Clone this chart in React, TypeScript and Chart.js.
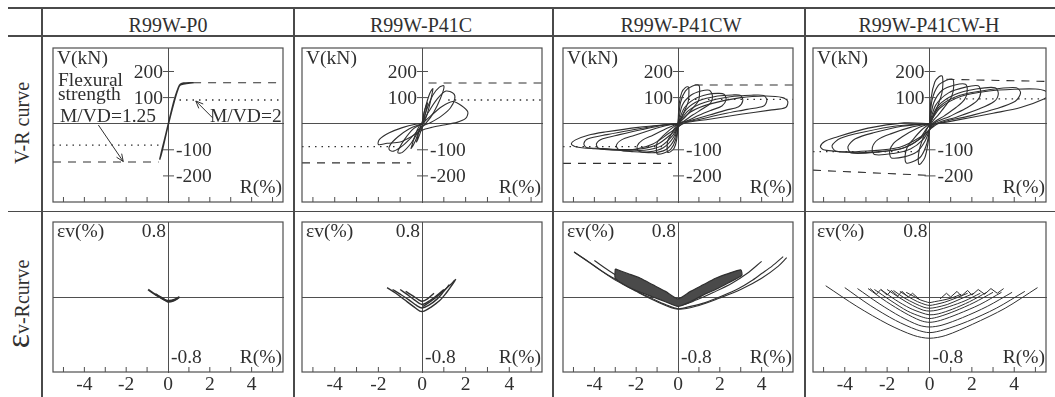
import React, { useEffect, useRef } from 'react';
import { Chart, registerables } from 'chart.js';

Chart.register(...registerables);

type Pt = [number, number];

// ---------------- text ----------------
const specimenTitles = ['R99W-P0', 'R99W-P41C', 'R99W-P41CW', 'R99W-P41CW-H'];
const rowTitleVR = 'V-R curve';
const rowTitleERSymbol = 'ε';
const rowTitleERRest = 'v-Rcurve';

// ---------------- axes ----------------
const rRange: Pt = [-5.5, 5.5];
const vRange: Pt = [-300, 290];
const eRange: Pt = [-0.8, 0.8];
const vTickValues = [-200, -100, 100, 200];
const rMinorTicks = [-5, -4, -3, -2, -1, 1, 2, 3, 4, 5];
const rLabelTicks = [-4, -2, 0, 2, 4];

// ---------------- R99W-P0 ----------------
const p0Hysteresis: Pt[] = [[-0.4,-138],[-0.32,-110],[-0.18,-65],[0,-5],[0.18,55],[0.35,105],[0.5,140],[0.6,152],[0.75,156],[1.2,157],[0.58,148],[0.45,125],[0.3,85],[0.12,30],[-0.05,-25],[-0.22,-85],[-0.33,-120],[-0.4,-138]];
const p0FlexDashed: Pt[][] = [[[1.2,157],[5.5,157]],[[-5.5,-147],[-0.45,-147]]];
const p0FlexDotted: Pt[][] = [[[0.55,91],[5.5,91]],[[-5.5,-82],[-0.45,-82]]];
const p0Arrows: [Pt, Pt][] = [[[-3.33,-5],[-2.14,-145]],[[2.14,22],[1.33,87]]];
const p0Strain: Pt[][] = [
  [[-0.95,0.08],[-0.7,0.04],[-0.4,0.0],[-0.15,-0.03],[0.05,-0.04],[0.3,-0.03],[0.55,0.0]],
  [[-0.6,0.03],[-0.3,-0.01],[0,-0.05],[0.25,-0.04],[0.5,-0.01]],
];

// ---------------- R99W-P41C ----------------
const p41cHysteresis: Pt[][] = [
  [[0,0],[0.1,45],[0.25,80],[0.2,55],[0.05,0],[-0.1,-40],[-0.25,-70],[-0.2,-50],[-0.05,-5],[0,0]],
  [[0,0],[0.15,60],[0.35,115],[0.5,135],[0.45,110],[0.3,55],[0.1,5],[-0.1,-20],[-0.3,-65],[-0.5,-95],[-0.45,-80],[-0.3,-40],[-0.1,-5],[0,0]],
  [[0,0],[0.2,50],[0.5,110],[0.8,140],[1.0,145],[0.95,120],[0.7,70],[0.4,25],[0.1,-5],[-0.2,-35],[-0.5,-75],[-0.9,-110],[-1.1,-112],[-1.05,-95],[-0.8,-60],[-0.4,-20],[0,0]],
  [[0,0],[0.3,45],[0.7,95],[1.1,125],[1.45,115],[1.5,95],[1.3,60],[0.9,30],[0.4,5],[0,-10],[-0.4,-45],[-0.9,-85],[-1.3,-105],[-1.5,-100],[-1.45,-80],[-1.1,-50],[-0.6,-20],[0,0]],
  [[0,0],[0.4,30],[0.9,65],[1.4,85],[1.8,70],[2.1,45],[2.0,20],[1.6,5],[1.0,-5],[0.4,-15],[0,-25],[-0.5,-50],[-1.0,-70],[-1.6,-75],[-2.0,-80],[-1.95,-60],[-1.5,-35],[-0.9,-15],[-0.3,-2],[0,0]],
];
const p41cFlexDashed: Pt[][] = [[[0.3,156],[5.5,156]],[[-5.5,-150],[-0.5,-150]]];
const p41cFlexDotted: Pt[][] = [[[1.2,91],[5.5,91]],[[-5.5,-88],[-1.2,-88]]];
const p41cStrain: Pt[][] = [
  [[-1.6,0.1],[-1.2,0.04],[-0.8,-0.03],[-0.4,-0.1],[-0.1,-0.15],[0.1,-0.15],[0.4,-0.11],[0.8,-0.04],[1.1,0.04],[1.35,0.12],[1.55,0.19]],
  [[0.05,-0.1],[0.5,-0.03],[1.0,0.07],[1.3,0.13],[1.5,0.18]],
  [[-1.35,0.08],[-1.0,0.03],[-0.6,-0.03],[-0.25,-0.09],[0,-0.117],[0.3,-0.09],[0.7,-0.02],[1.0,0.06],[1.25,0.13]],
  [[-1.0,0.08],[-0.7,0.03],[-0.35,-0.03],[0,-0.08],[0.35,-0.04],[0.7,0.02],[1.0,0.08]],
  [[-0.75,0.06],[-0.4,0.01],[-0.15,-0.03],[0,-0.046],[0.25,-0.02],[0.55,0.04]],
];

// ---------------- R99W-P41CW ----------------
const p41cwHysteresis: Pt[][] = [
  [[0,0],[0.06,78],[0.18,120],[0.35,138],[0.5,141],[0.52,113],[0.49,85],[0.35,56],[0.18,25],[0.03,0],[-0.06,-60],[-0.18,-93],[-0.35,-107],[-0.5,-109],[-0.52,-87],[-0.49,-65],[-0.35,-44],[-0.18,-20],[0,0]],
  [[0,0],[0.12,81],[0.35,125],[0.7,144],[1.0,147],[1.03,118],[0.98,88],[0.7,59],[0.35,26],[0.05,0],[-0.12,-63],[-0.35,-98],[-0.7,-113],[-1.0,-115],[-1.03,-92],[-0.98,-69],[-0.7,-46],[-0.35,-21],[0,0]],
  [[0,0],[0.2,70],[0.6,108],[1.1,125],[1.5,128],[1.65,105],[1.55,78],[1.2,58],[0.7,33],[0.25,8],[0,0],[-0.15,-55],[-0.5,-95],[-1.0,-110],[-1.6,-110],[-1.9,-104],[-1.95,-85],[-1.7,-63],[-1.2,-44],[-0.6,-20],[0,0]],
  [[0,0],[0.3,60],[0.8,95],[1.4,112],[1.9,116],[2.2,113],[2.3,92],[2.1,68],[1.6,52],[1.0,32],[0.4,10],[0.05,0],[-0.2,-50],[-0.7,-92],[-1.4,-108],[-2.2,-107],[-2.8,-101],[-2.95,-84],[-2.7,-62],[-2.1,-45],[-1.3,-24],[-0.5,-6],[0,0]],
  [[0,0],[0.4,55],[1.0,88],[1.9,106],[2.6,110],[3.0,108],[3.1,88],[2.9,65],[2.3,52],[1.5,33],[0.6,12],[0.1,0],[-0.25,-45],[-0.8,-85],[-1.6,-102],[-2.6,-103],[-3.4,-98],[-3.8,-94],[-3.9,-77],[-3.6,-58],[-2.8,-42],[-1.7,-22],[-0.7,-6],[0,0]],
  [[0,0],[0.5,50],[1.3,82],[2.5,103],[3.5,109],[4.1,108],[4.25,90],[4.1,68],[3.3,55],[2.2,38],[1.0,16],[0.2,0],[-0.3,-38],[-1.0,-80],[-1.8,-97],[-2.8,-99],[-3.7,-95],[-4.4,-90],[-4.5,-75],[-4.3,-58],[-3.4,-42],[-2.2,-24],[-1,-8],[0,0]],
  [[0,0],[0.6,45],[1.5,75],[3,100],[4.2,106],[5.0,100],[5.25,85],[5.15,62],[4.4,52],[3,36],[1.5,17],[0.3,2],[-0.4,-35],[-1.2,-78],[-2,-97],[-3,-101],[-4,-96],[-4.9,-88],[-5.1,-78],[-4.9,-62],[-4.3,-44],[-3.5,-32],[-1.9,-14],[0,0]],
];
const p41cwFlexDashed: Pt[][] = [[[0.8,148],[5.5,148]],[[-5.5,-152],[-0.3,-152]]];
const p41cwFlexDotted: Pt[][] = [[[0.5,93],[5.5,93]],[[-5.5,-88],[-0.5,-88]]];
const p41cwStrainBand: Pt[] = [[-3.0,0.3],[-2.4,0.25],[-1.8,0.2],[-1.2,0.13],[-0.6,0.06],[0,-0.02],[0.6,0.06],[1.2,0.13],[1.8,0.2],[2.4,0.25],[3.0,0.29],[3.05,0.23],[2.4,0.15],[1.8,0.08],[1.2,0.02],[0.6,-0.05],[0,-0.1],[-0.6,-0.05],[-1.2,0.0],[-1.8,0.05],[-2.4,0.11],[-3.0,0.2],[-3.0,0.3]];
const p41cwStrain: Pt[][] = [
  [[-4.97,0.48],[-4.3,0.38],[-3.46,0.25],[-2.6,0.14],[-1.87,0.05],[-1.2,-0.02],[-0.6,-0.08],[0,-0.125],[0.6,-0.1],[1.3,-0.06],[2.1,0.01],[2.9,0.09],[3.5,0.17],[4.0,0.25],[4.5,0.33],[5.03,0.43]],
  [[-4.0,0.39],[-3.3,0.28],[-2.5,0.17],[-1.7,0.08],[-0.9,0.0],[0,-0.09],[0.9,-0.03],[1.8,0.06],[2.6,0.15],[3.3,0.25],[4.0,0.38]],
  [[-4.97,0.48],[-4.0,0.33],[-3.0,0.18],[-2.0,0.06],[-1.0,-0.05],[0,-0.13],[1.0,-0.09],[2.0,-0.01],[3.0,0.08],[4.0,0.2],[4.8,0.33],[5.2,0.42]],
];

// ---------------- R99W-P41CW-H ----------------
const p41cwhHysteresis: Pt[][] = [
  [[0,0],[0.08,100],[0.25,160],[0.45,180],[0.6,183],[0.63,150],[0.58,115],[0.42,75],[0.22,35],[0.05,0],[-0.08,-80],[-0.22,-130],[-0.4,-152],[-0.5,-156],[-0.53,-130],[-0.48,-100],[-0.35,-65],[-0.18,-30],[0,0]],
  [[0,0],[0.12,90],[0.4,145],[0.8,166],[1.1,170],[1.14,140],[1.05,105],[0.75,68],[0.4,32],[0.08,0],[-0.12,-75],[-0.4,-125],[-0.8,-146],[-1.1,-150],[-1.15,-122],[-1.05,-90],[-0.75,-58],[-0.4,-26],[0,0]],
  [[0,0],[0.2,80],[0.6,128],[1.2,148],[1.7,151],[1.78,125],[1.65,92],[1.25,62],[0.7,30],[0.15,0],[-0.2,-65],[-0.6,-108],[-1.2,-127],[-1.8,-131],[-1.88,-105],[-1.7,-75],[-1.25,-48],[-0.65,-20],[0,0]],
  [[0,0],[0.3,72],[0.9,118],[1.7,140],[2.3,145],[2.42,120],[2.25,88],[1.7,58],[0.95,28],[0.2,0],[-0.3,-60],[-0.9,-97],[-1.7,-114],[-2.6,-118],[-2.7,-92],[-2.45,-62],[-1.8,-38],[-0.9,-14],[0,0]],
  [[0,0],[0.4,68],[1.2,112],[2.2,133],[3.1,138],[3.25,115],[3.05,85],[2.3,55],[1.3,26],[0.3,0],[-0.4,-55],[-1.2,-92],[-2.4,-108],[-3.7,-112],[-3.85,-88],[-3.5,-58],[-2.6,-34],[-1.3,-10],[0,0]],
  [[0,0],[0.45,64],[1.4,108],[2.8,130],[4.1,138],[4.3,118],[4.05,86],[3.1,56],[1.8,28],[0.4,0],[-0.45,-52],[-1.4,-90],[-2.8,-104],[-4.4,-106],[-4.6,-84],[-4.2,-56],[-3.1,-32],[-1.5,-8],[0,0]],
  [[0,0],[0.5,60],[1.5,105],[2.8,125],[4,132],[5.0,133],[5.45,126],[5.6,110],[5.4,95],[4.3,62],[3,40],[1.9,23],[0.8,6],[0,-8],[-0.5,-60],[-1.3,-95],[-2.4,-108],[-3.6,-111],[-4.5,-105],[-5,-100],[-5.15,-87],[-4.95,-68],[-4.5,-54],[-2.9,-17],[-1.2,3],[0,0]],
];
const p41cwhFlexDashed: Pt[][] = [[[0.8,170],[5.5,162]],[[-5.5,-178],[0,-198]]];
const p41cwhFlexDotted: Pt[][] = [[[0.5,95],[5.5,95]],[[-5.5,-107],[-0.5,-107]]];
const p41cwhStrain: Pt[][] = [
  [[-4.9,0.12],[-3.43,-0.10],[-1.96,-0.29],[-0.74,-0.41],[0,-0.44],[0.77,-0.41],[2.04,-0.29],[3.57,-0.12],[5.1,0.10]],
  [[-4.0,0.10],[-2.8,-0.09],[-1.6,-0.25],[-0.6,-0.35],[0,-0.38],[0.68,-0.35],[1.8,-0.26],[3.15,-0.12],[4.5,0.06]],
  [[-3.4,0.09],[-2.38,-0.07],[-1.36,-0.21],[-0.51,-0.30],[0,-0.32],[0.59,-0.30],[1.56,-0.22],[2.73,-0.10],[3.9,0.05]],
  [[-2.9,0.09],[-2.03,-0.05],[-1.16,-0.17],[-0.44,-0.25],[0,-0.27],[0.51,-0.25],[1.36,-0.18],[2.38,-0.08],[3.4,0.05]],
  [[-2.6,0.08],[-1.82,-0.04],[-1.04,-0.15],[-0.39,-0.21],[0,-0.23],[0.45,-0.21],[1.2,-0.15],[2.1,-0.06],[3.0,0.05]],
  [[-2.3,0.08],[-1.61,-0.03],[-0.92,-0.12],[-0.35,-0.17],[0,-0.19],[0.41,-0.18],[1.08,-0.13],[1.89,-0.05],[2.7,0.05]],
  [[-2.0,0.08],[-1.4,-0.01],[-0.8,-0.09],[-0.3,-0.14],[0,-0.15],[0.36,-0.14],[0.96,-0.10],[1.68,-0.04],[2.4,0.04]],
  [[-1.7,0.07],[-1.19,-0.01],[-0.68,-0.07],[-0.26,-0.11],[0,-0.12],[0.32,-0.11],[0.84,-0.08],[1.47,-0.02],[2.1,0.04]],
  [[-1.4,0.06],[-0.98,0.0],[-0.56,-0.05],[-0.21,-0.08],[0,-0.09],[0.27,-0.08],[0.72,-0.055],[1.26,-0.01],[1.8,0.04]],
  [[-1.1,0.05],[-0.77,0.01],[-0.44,-0.03],[-0.17,-0.05],[0,-0.06],[0.23,-0.05],[0.6,-0.035],[1.05,-0.01],[1.5,0.03]],
];
const p41cwhStrainZigzag: Pt[][] = [
  [[-2.8,0.09],[-2.5,0.03],[-2.3,0.08],[-2.0,0.02],[-1.8,0.07],[-1.5,0.01],[-1.3,0.06],[-1.0,0.0],[-0.8,0.04],[-0.5,-0.02]],
  [[0.5,-0.02],[0.8,0.04],[1.0,0.0],[1.3,0.06],[1.5,0.01],[1.8,0.07],[2.0,0.02],[2.3,0.08],[2.6,0.03],[2.9,0.09],[3.2,0.04],[3.5,0.09]],
];

// ---------------- styling / layout ----------------
const FONT = "'Liberation Serif', 'Times New Roman', Times, serif";
const INK = '#303030';
const RULE = '#4a4a4a';
const FRAME = '#4f4f4f';
const LABEL_PX = 19.5;
const M = 22;
const MB = 28;
const colBoxes: Pt[] = [[53, 230], [302, 240], [563, 230], [813, 233]];
const rowBoxes: Pt[] = [[48, 154], [222, 150]];
const headerCenters = [168, 421, 681, 929];
const verticalRules = [41, 293, 552, 804];

type Curve = { pts: Pt[]; width?: number; dash?: number[]; tension?: number; fill?: boolean };
type Note = { text: string; dx: number; dy: number };
type PanelSpec = { col: number; row: number; kind: 'VR' | 'ER'; curves: Curve[]; arrows?: [Pt, Pt][]; notes?: Note[] };

const solid = (list: Pt[][], width = 1.1, tension = 0.3): Curve[] => list.map((pts) => ({ pts, width, tension }));
const dashed = (list: Pt[][]): Curve[] => list.map((pts) => ({ pts, width: 1.1, dash: [8, 7], tension: 0 }));
const dotted = (list: Pt[][]): Curve[] => list.map((pts) => ({ pts, width: 1.4, dash: [1.5, 5], tension: 0 }));

const panels: PanelSpec[] = [
  {
    col: 0, row: 0, kind: 'VR',
    curves: [...dashed(p0FlexDashed), ...dotted(p0FlexDotted), ...solid([p0Hysteresis], 1.4, 0.2)],
    arrows: p0Arrows,
    notes: [
      { text: 'Flexural', dx: 5, dy: 38 },
      { text: 'strength', dx: 5, dy: 52 },
      { text: 'M/VD=1.25', dx: 7, dy: 74 },
      { text: 'M/VD=2', dx: 157, dy: 74 },
    ],
  },
  { col: 1, row: 0, kind: 'VR', curves: [...dashed(p41cFlexDashed), ...dotted(p41cFlexDotted), ...solid(p41cHysteresis)] },
  { col: 2, row: 0, kind: 'VR', curves: [...dashed(p41cwFlexDashed), ...dotted(p41cwFlexDotted), ...solid(p41cwHysteresis)] },
  { col: 3, row: 0, kind: 'VR', curves: [...dashed(p41cwhFlexDashed), ...dotted(p41cwhFlexDotted), ...solid(p41cwhHysteresis)] },
  { col: 0, row: 1, kind: 'ER', curves: solid(p0Strain, 2, 0.3) },
  { col: 1, row: 1, kind: 'ER', curves: solid(p41cStrain, 1.4, 0.3) },
  { col: 2, row: 1, kind: 'ER', curves: [{ pts: p41cwStrainBand, width: 1.2, tension: 0.2, fill: true }, ...solid(p41cwStrain, 1.1, 0.3)] },
  { col: 3, row: 1, kind: 'ER', curves: [...solid(p41cwhStrain, 1.0, 0.3), ...solid(p41cwhStrainZigzag, 1.0, 0)] },
];

function makeOverlay(spec: PanelSpec) {
  return {
    id: 'panelOverlay',
    afterDraw(chart: any) {
      const { ctx, chartArea: a } = chart;
      const xs = chart.scales.x;
      const ys = chart.scales.y;
      const x0 = xs.getPixelForValue(0);
      ctx.save();
      ctx.strokeStyle = FRAME;
      ctx.lineWidth = 1.2;
      ctx.strokeRect(a.left, a.top, a.right - a.left, a.bottom - a.top);
      ctx.lineWidth = 1;
      ctx.beginPath();
      for (const v of rMinorTicks) {
        const px = xs.getPixelForValue(v);
        ctx.moveTo(px, a.bottom);
        ctx.lineTo(px, a.bottom - 5);
      }
      if (spec.kind === 'VR') {
        for (const v of vTickValues) {
          const py = ys.getPixelForValue(v);
          ctx.moveTo(x0 - 5, py);
          ctx.lineTo(x0 + 6, py);
        }
      }
      ctx.stroke();

      ctx.strokeStyle = INK;
      for (const [[r1, v1], [r2, v2]] of spec.arrows ?? []) {
        const ax = xs.getPixelForValue(r1), ay = ys.getPixelForValue(v1);
        const bx = xs.getPixelForValue(r2), by = ys.getPixelForValue(v2);
        const ang = Math.atan2(by - ay, bx - ax);
        ctx.beginPath();
        ctx.moveTo(ax, ay);
        ctx.lineTo(bx, by);
        for (const s of [-1, 1]) {
          ctx.moveTo(bx, by);
          ctx.lineTo(bx - 8 * Math.cos(ang + s * 0.4), by - 8 * Math.sin(ang + s * 0.4));
        }
        ctx.stroke();
      }

      ctx.fillStyle = INK;
      ctx.font = `${LABEL_PX}px ${FONT}`;
      ctx.textBaseline = 'alphabetic';
      if (spec.kind === 'VR') {
        ctx.textAlign = 'left';
        ctx.fillText('V(kN)', a.left + 4, a.top + 16);
        ctx.textAlign = 'right';
        ctx.fillText('R(%)', a.right - 1, a.bottom - 9);
        // V tick labels: positive ones left of the axis, negative ones right of it
        ctx.textBaseline = 'middle';
        for (const v of vTickValues) {
          const py = ys.getPixelForValue(v) + 1;
          if (v > 0) {
            ctx.textAlign = 'right';
            ctx.fillText(String(v), x0 - 5, py);
          } else {
            ctx.textAlign = 'left';
            ctx.fillText(String(v), x0 + 8, py);
          }
        }
        ctx.textBaseline = 'alphabetic';
      } else {
        ctx.textAlign = 'left';
        ctx.fillText('εv(%)', a.left + 4, a.top + 15);
        ctx.fillText(String(eRange[0]), x0 + 3, a.bottom - 9);
        ctx.textAlign = 'right';
        ctx.fillText(String(eRange[1]), x0 - 2, a.top + 15);
        ctx.fillText('R(%)', a.right - 1, a.bottom - 9);
        ctx.textAlign = 'center';
        for (const v of rLabelTicks) ctx.fillText(String(v), xs.getPixelForValue(v), a.bottom + 18);
      }
      ctx.textAlign = 'left';
      for (const n of spec.notes ?? []) ctx.fillText(n.text, a.left + n.dx, a.top + n.dy);
      ctx.restore();
    },
  };
}

function Panel({ spec }: { spec: PanelSpec }) {
  const ref = useRef<HTMLCanvasElement>(null);
  const [bx, bw] = colBoxes[spec.col];
  const [by, bh] = rowBoxes[spec.row];
  const W = bw + 2 * M;
  const H = bh + M + MB;
  useEffect(() => {
    const yr = spec.kind === 'VR' ? vRange : eRange;
    const datasets = spec.curves.map((c) => ({
      data: c.pts.map(([x, y]) => ({ x, y })),
      showLine: true,
      pointRadius: 0,
      borderColor: INK,
      borderWidth: c.width ?? 1.1,
      borderDash: c.dash ?? [],
      tension: c.tension ?? 0.3,
      fill: c.fill ? 'shape' : false,
      backgroundColor: c.fill ? '#4a4a4a' : 'rgba(0,0,0,0)',
    }));
    const chart = new Chart(ref.current as HTMLCanvasElement, {
      type: 'scatter',
      data: { datasets } as any,
      options: {
        responsive: false,
        maintainAspectRatio: false,
        animation: false,
        events: [],
        layout: { padding: { left: M, right: M, top: M, bottom: MB } },
        plugins: { legend: { display: false }, tooltip: { enabled: false } },
        scales: {
          x: {
            type: 'linear', min: rRange[0], max: rRange[1], position: { y: 0 } as any,
            grid: { display: false, drawTicks: false },
            border: { display: true, color: FRAME, width: 1 },
            ticks: { display: false },
          },
          y: {
            type: 'linear', min: yr[0], max: yr[1], position: { x: 0 } as any,
            grid: { display: false, drawTicks: false },
            border: { display: true, color: FRAME, width: 1 },
            ticks: { display: false },
          },
        } as any,
      },
      plugins: [makeOverlay(spec)],
    });
    return () => chart.destroy();
  }, []);
  return (
    <canvas
      ref={ref}
      width={W}
      height={H}
      style={{ position: 'absolute', left: bx - M, top: by - M, width: W, height: H }}
    />
  );
}

export default function App() {
  const rule = (left: number, top: number, width: number, height: number, key: string) => (
    <div key={key} style={{ position: 'absolute', left, top, width, height, background: RULE }} />
  );
  return (
    <div
      style={{
        position: 'absolute', left: 0, top: 0, width: 1055, height: 397,
        background: '#ffffff', overflow: 'hidden', fontFamily: FONT, color: INK,
      }}
    >
      {rule(8, 7, 1047, 2, 'top')}
      {rule(8, 35, 1047, 1.5, 'head')}
      {rule(8, 210.5, 1047, 1.5, 'mid')}
      {verticalRules.map((x, i) => rule(x, 7, 1.5, 390, 'v' + i))}
      {specimenTitles.map((t, i) => (
        <div
          key={t}
          style={{
            position: 'absolute', left: headerCenters[i] - 110, width: 220, top: 15,
            textAlign: 'center', fontSize: 20, lineHeight: '20px', whiteSpace: 'nowrap',
          }}
        >
          {t}
        </div>
      ))}
      <div
        style={{
          position: 'absolute', left: 22, top: 123, transform: 'translate(-50%, -50%) rotate(-90deg)',
          fontSize: 20, whiteSpace: 'nowrap', lineHeight: '22px',
        }}
      >
        {rowTitleVR}
      </div>
      <div
        style={{
          position: 'absolute', left: 20, top: 304, transform: 'translate(-50%, -50%) rotate(-90deg)',
          fontSize: 20, whiteSpace: 'nowrap', lineHeight: '30px',
        }}
      >
        <span style={{ fontSize: 34 }}>{rowTitleERSymbol}</span>
        {rowTitleERRest}
      </div>
      {panels.map((p, i) => (
        <Panel key={i} spec={p} />
      ))}
    </div>
  );
}
